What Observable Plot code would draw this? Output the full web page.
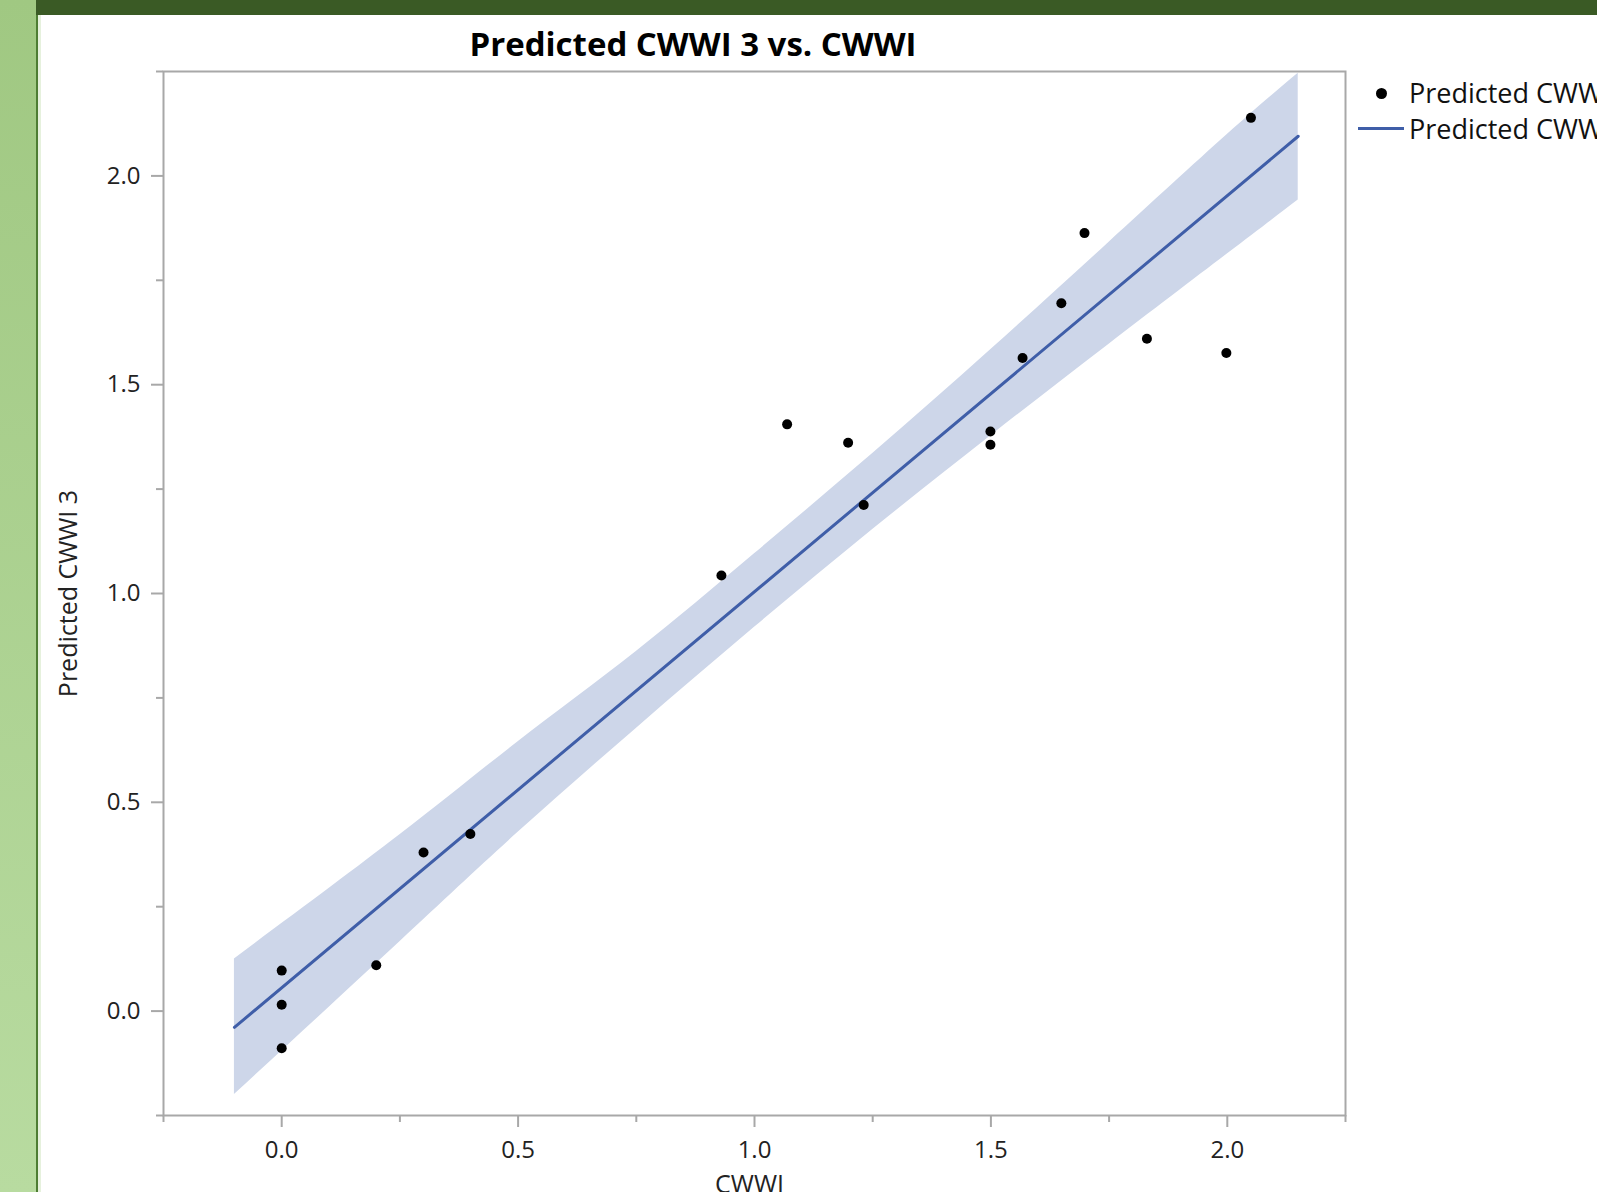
<!DOCTYPE html>
<html>
<head>
<meta charset="utf-8">
<script src="https://cdn.jsdelivr.net/npm/d3@7"></script>
<script src="https://cdn.jsdelivr.net/npm/@observablehq/plot@0.6"></script>
<style>
  html, body { margin: 0; padding: 0; background: #ffffff; overflow: hidden; width: 1597px; height: 1192px; }
  #page { position: relative; width: 1597px; height: 1192px; overflow: hidden; }
  .abs { position: absolute; }
  #title { left: 0; width: 1386px; top: 23px; text-align: center; font-family: "Open Sans", sans-serif; font-weight: 700; font-size: 33px; line-height: 42px; color: #000; white-space: nowrap; }
  .leg { font-family: "Open Sans", sans-serif; font-size: 27px; color: #111; white-space: nowrap; line-height: 32px; }
</style>
</head>
<body>
<div id="page">
  <div class="abs" style="left:0;top:0;width:36px;height:1192px;background:linear-gradient(#a0c882,#b8dba0);"></div>
  <div class="abs" style="left:36px;top:0;width:2px;height:1192px;background:#4e7d33;"></div>
  <div class="abs" style="left:38px;top:0;width:3px;height:1192px;background:#e6f1dd;"></div>
  <div class="abs" style="left:36px;top:0;width:1561px;height:15px;background:#3a5a25;"></div>
  <div id="chart" class="abs" style="left:0;top:0;"></div>
  <div id="title" class="abs">Predicted CWWI 3 vs. CWWI</div>
  <div id="legend" class="abs" style="left:1350px;top:75px;"></div>
</div>
<script>
// Observed points: CWWI (x) vs Predicted CWWI 3 (y)
const cwwi = [0.000, 0.000, 0.000, 0.200, 0.300, 0.399, 0.930, 1.069, 1.198, 1.231, 1.499, 1.499, 1.567, 1.649, 1.698, 1.830, 1.998, 2.050];
const predicted = [0.097, 0.015, -0.089, 0.110, 0.380, 0.424, 1.043, 1.405, 1.361, 1.212, 1.388, 1.356, 1.564, 1.695, 1.863, 1.610, 1.576, 2.139];

// Fit line endpoints
const fitX = [-0.1, 2.15];
const fitY = [-0.039, 2.095];

// Confidence band
const bandX = [-0.1, 0.25, 0.5, 0.75, 1.0, 1.25, 1.5, 1.75, 2.0, 2.15];
const bandLow = [-0.200, 0.166, 0.428, 0.677, 0.919, 1.153, 1.378, 1.597, 1.813, 1.942];
const bandHigh = [0.125, 0.422, 0.645, 0.861, 1.095, 1.335, 1.584, 1.841, 2.099, 2.246];

// Axis ticks
const majorTicks = [0, 0.5, 1.0, 1.5, 2.0];
const minorTicks = [-0.25, 0.25, 0.75, 1.25, 1.75, 2.25];

// Labels
const titleText = "Predicted CWWI 3 vs. CWWI";
const xLabel = "CWWI";
const yLabel = "Predicted CWWI 3";
const legendLabels = ["Predicted CWWI 3", "Predicted CWWI 3"];

const points = cwwi.map((x, i) => ({x, y: predicted[i]}));
const fit = fitX.map((x, i) => ({x, y: fitY[i]}));
const band = bandX.map((x, i) => ({x, lo: bandLow[i], hi: bandHigh[i]}));

const axisGray = "#a8a8a8";
const blue = "#3f5ea8";

const chart = Plot.plot({
  width: 1597,
  height: 1192,
  marginLeft: 163,
  marginRight: 252,
  marginTop: 71,
  marginBottom: 77,
  x: {domain: [-0.25, 2.25]},
  y: {domain: [-0.25, 2.25]},
  style: {fontFamily: "Open Sans, sans-serif", fontSize: "24px", color: "#222", background: "transparent", overflow: "visible"},
  marks: [
    Plot.areaY(band, {x: "x", y1: "lo", y2: "hi", fill: "#cdd6e9", curve: "natural"}),
    Plot.line(fit, {x: "x", y: "y", stroke: blue, strokeWidth: 3}),
    Plot.dot(points, {x: "x", y: "y", r: 5, fill: "#000", stroke: "none"}),
    Plot.frame({stroke: axisGray, strokeWidth: 2}),
    Plot.axisX({ticks: majorTicks, tickSize: 12, tickPadding: 13, tickFormat: d3.format(".1f"), stroke: axisGray, strokeWidth: 2, fill: "#222", label: null}),
    Plot.axisX({ticks: minorTicks, tickSize: 7, text: null, stroke: axisGray, strokeWidth: 2, label: null}),
    Plot.axisY({ticks: majorTicks, tickSize: 12, tickPadding: 11, tickFormat: d3.format(".1f"), stroke: axisGray, strokeWidth: 2, fill: "#222", label: null}),
    Plot.axisY({ticks: minorTicks, tickSize: 7, text: null, stroke: axisGray, strokeWidth: 2, label: null}),
    Plot.text([xLabel], {frameAnchor: "bottom", dy: 77, dx: -5, fontSize: 25, fill: "#222"}),
    Plot.text([yLabel], {frameAnchor: "left", textAnchor: "middle", dx: -95, rotate: -90, fontSize: 25, fill: "#222"})
  ]
});
document.getElementById("chart").appendChild(chart);
document.getElementById("title").textContent = titleText;

// Legend
const legend = document.getElementById("legend");
legend.innerHTML = `
  <div style="position:absolute;left:26px;top:13px;width:11px;height:11px;border-radius:50%;background:#000;"></div>
  <div class="leg" style="position:absolute;left:59px;top:2px;">${legendLabels[0]}</div>
  <div style="position:absolute;left:8px;top:52px;width:46px;height:3px;background:${blue};"></div>
  <div class="leg" style="position:absolute;left:59px;top:38px;">${legendLabels[1]}</div>
`;
</script>
</body>
</html>
